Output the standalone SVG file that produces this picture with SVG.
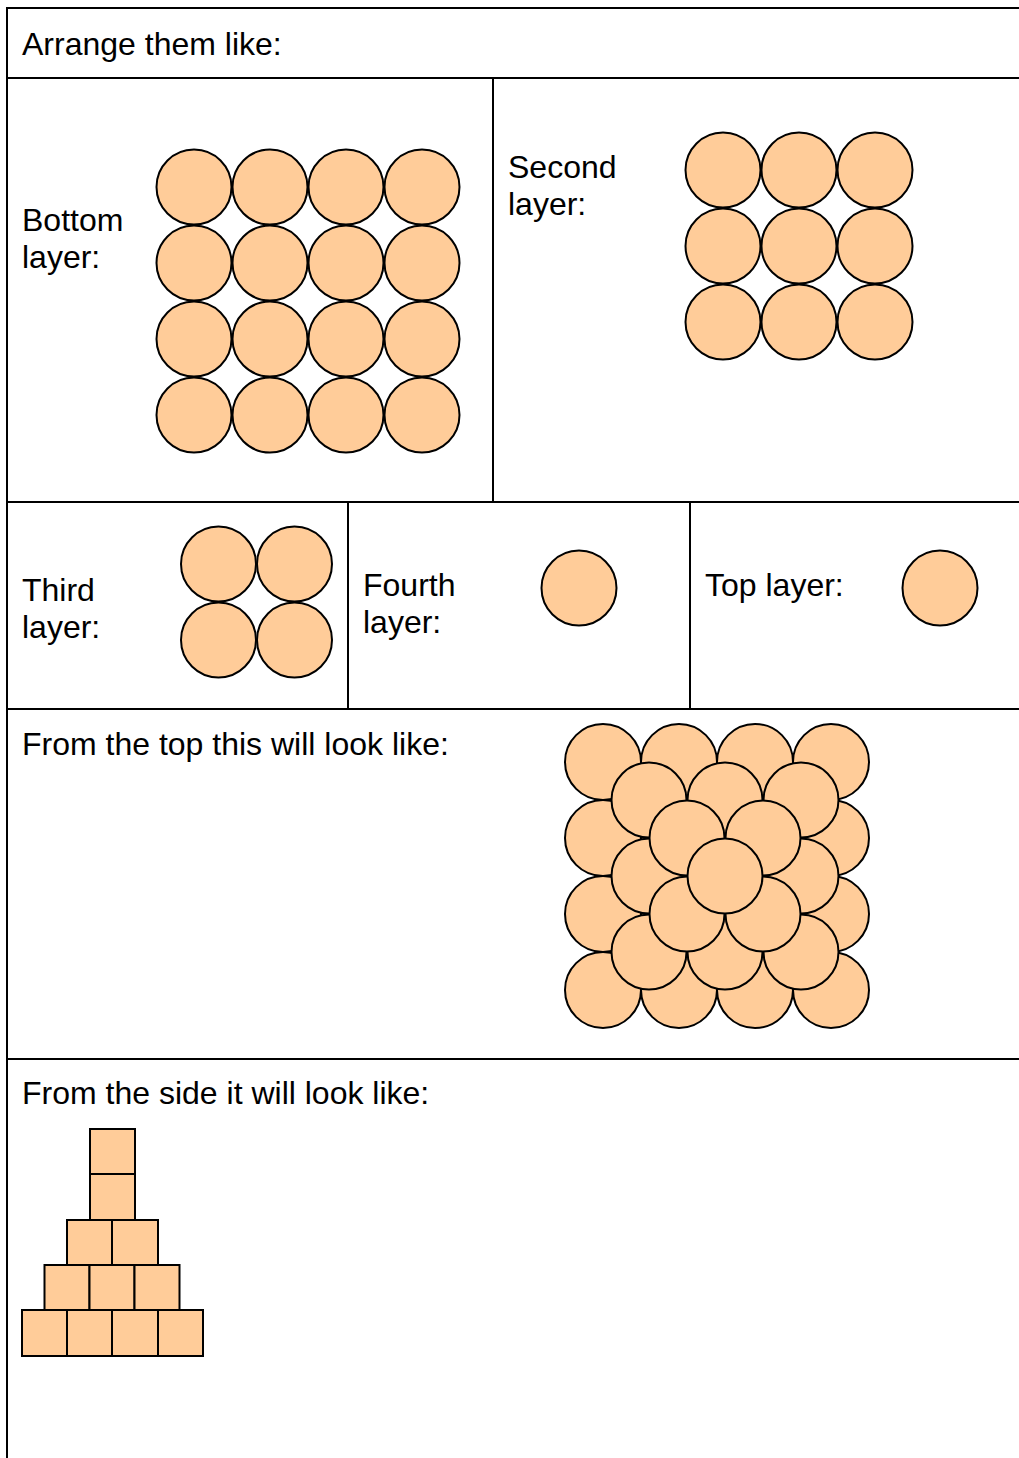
<svg xmlns="http://www.w3.org/2000/svg" width="1019" height="1458" viewBox="0 0 1019 1458">
<style>
.t{font-family:"Liberation Sans",Arial,sans-serif;font-size:32px;fill:#000}
.c{fill:#FFCC99;stroke:#000;stroke-width:2}
.s{fill:#FFCC99;stroke:#000;stroke-width:2}
.g{stroke:#000;stroke-width:2;fill:none}
</style>
<rect width="1019" height="1458" fill="#fff"/>
<g id="grid">
<line class="g" x1="7" y1="8" x2="1019" y2="8"/>
<line class="g" x1="7" y1="7" x2="7" y2="1458"/>
<line class="g" x1="7" y1="78" x2="1019" y2="78"/>
<line class="g" x1="7" y1="502" x2="1019" y2="502"/>
<line class="g" x1="7" y1="709" x2="1019" y2="709"/>
<line class="g" x1="7" y1="1059" x2="1019" y2="1059"/>
<line class="g" x1="493" y1="78" x2="493" y2="502"/>
<line class="g" x1="348" y1="502" x2="348" y2="709"/>
<line class="g" x1="690" y1="502" x2="690" y2="709"/>
</g>
<g id="title"><text class="t" x="22" y="55">Arrange them like:</text></g>
<g id="bottom-layer">
<text class="t" x="22" y="231">Bottom</text>
<text class="t" x="22" y="268">layer:</text>
<g>
<circle class="c" cx="194" cy="187" r="37.5"/><circle class="c" cx="270" cy="187" r="37.5"/><circle class="c" cx="346" cy="187" r="37.5"/><circle class="c" cx="422" cy="187" r="37.5"/>
<circle class="c" cx="194" cy="263" r="37.5"/><circle class="c" cx="270" cy="263" r="37.5"/><circle class="c" cx="346" cy="263" r="37.5"/><circle class="c" cx="422" cy="263" r="37.5"/>
<circle class="c" cx="194" cy="339" r="37.5"/><circle class="c" cx="270" cy="339" r="37.5"/><circle class="c" cx="346" cy="339" r="37.5"/><circle class="c" cx="422" cy="339" r="37.5"/>
<circle class="c" cx="194" cy="415" r="37.5"/><circle class="c" cx="270" cy="415" r="37.5"/><circle class="c" cx="346" cy="415" r="37.5"/><circle class="c" cx="422" cy="415" r="37.5"/>
</g>
</g>
<g id="second-layer">
<text class="t" x="508" y="178">Second</text>
<text class="t" x="508" y="215">layer:</text>
<circle class="c" cx="723" cy="170" r="37.5"/><circle class="c" cx="799" cy="170" r="37.5"/><circle class="c" cx="875" cy="170" r="37.5"/>
<circle class="c" cx="723" cy="246" r="37.5"/><circle class="c" cx="799" cy="246" r="37.5"/><circle class="c" cx="875" cy="246" r="37.5"/>
<circle class="c" cx="723" cy="322" r="37.5"/><circle class="c" cx="799" cy="322" r="37.5"/><circle class="c" cx="875" cy="322" r="37.5"/>
</g>
<g id="third-layer">
<text class="t" x="22" y="601">Third</text>
<text class="t" x="22" y="638">layer:</text>
<circle class="c" cx="218.5" cy="564" r="37.5"/><circle class="c" cx="294.5" cy="564" r="37.5"/>
<circle class="c" cx="218.5" cy="640" r="37.5"/><circle class="c" cx="294.5" cy="640" r="37.5"/>
</g>
<g id="fourth-layer">
<text class="t" x="363" y="596">Fourth</text>
<text class="t" x="363" y="633">layer:</text>
<circle class="c" cx="579" cy="588" r="37.5"/>
</g>
<g id="top-layer">
<text class="t" x="705" y="596">Top layer:</text>
<circle class="c" cx="940" cy="588" r="37.5"/>
</g>
<g id="top-view">
<text class="t" x="22" y="755">From the top this will look like:</text>
<circle class="c" cx="603" cy="762" r="38"/><circle class="c" cx="679" cy="762" r="38"/><circle class="c" cx="755" cy="762" r="38"/><circle class="c" cx="831" cy="762" r="38"/>
<circle class="c" cx="603" cy="838" r="38"/><circle class="c" cx="679" cy="838" r="38"/><circle class="c" cx="755" cy="838" r="38"/><circle class="c" cx="831" cy="838" r="38"/>
<circle class="c" cx="603" cy="914" r="38"/><circle class="c" cx="679" cy="914" r="38"/><circle class="c" cx="755" cy="914" r="38"/><circle class="c" cx="831" cy="914" r="38"/>
<circle class="c" cx="603" cy="990" r="38"/><circle class="c" cx="679" cy="990" r="38"/><circle class="c" cx="755" cy="990" r="38"/><circle class="c" cx="831" cy="990" r="38"/>
<circle class="c" cx="649" cy="800" r="37.5"/><circle class="c" cx="725" cy="800" r="37.5"/><circle class="c" cx="801" cy="800" r="37.5"/>
<circle class="c" cx="649" cy="876" r="37.5"/><circle class="c" cx="725" cy="876" r="37.5"/><circle class="c" cx="801" cy="876" r="37.5"/>
<circle class="c" cx="649" cy="952" r="37.5"/><circle class="c" cx="725" cy="952" r="37.5"/><circle class="c" cx="801" cy="952" r="37.5"/>
<circle class="c" cx="687" cy="838" r="37.5"/><circle class="c" cx="763" cy="838" r="37.5"/>
<circle class="c" cx="687" cy="914" r="37.5"/><circle class="c" cx="763" cy="914" r="37.5"/>
<circle class="c" cx="725" cy="876" r="37.5"/>
</g>
<g id="side-view">
<text class="t" x="22" y="1104">From the side it will look like:</text>
<rect class="s" x="22" y="1310" width="45" height="46"/><rect class="s" x="67" y="1310" width="45" height="46"/><rect class="s" x="112" y="1310" width="46" height="46"/><rect class="s" x="158" y="1310" width="45" height="46"/>
<rect class="s" x="44.5" y="1265" width="45" height="45"/><rect class="s" x="89.5" y="1265" width="45" height="45"/><rect class="s" x="134.5" y="1265" width="45" height="45"/>
<rect class="s" x="67" y="1220" width="45" height="45"/><rect class="s" x="112" y="1220" width="46" height="45"/>
<rect class="s" x="90" y="1174" width="45" height="46"/>
<rect class="s" x="90" y="1129" width="45" height="45"/>
</g>
</svg>
